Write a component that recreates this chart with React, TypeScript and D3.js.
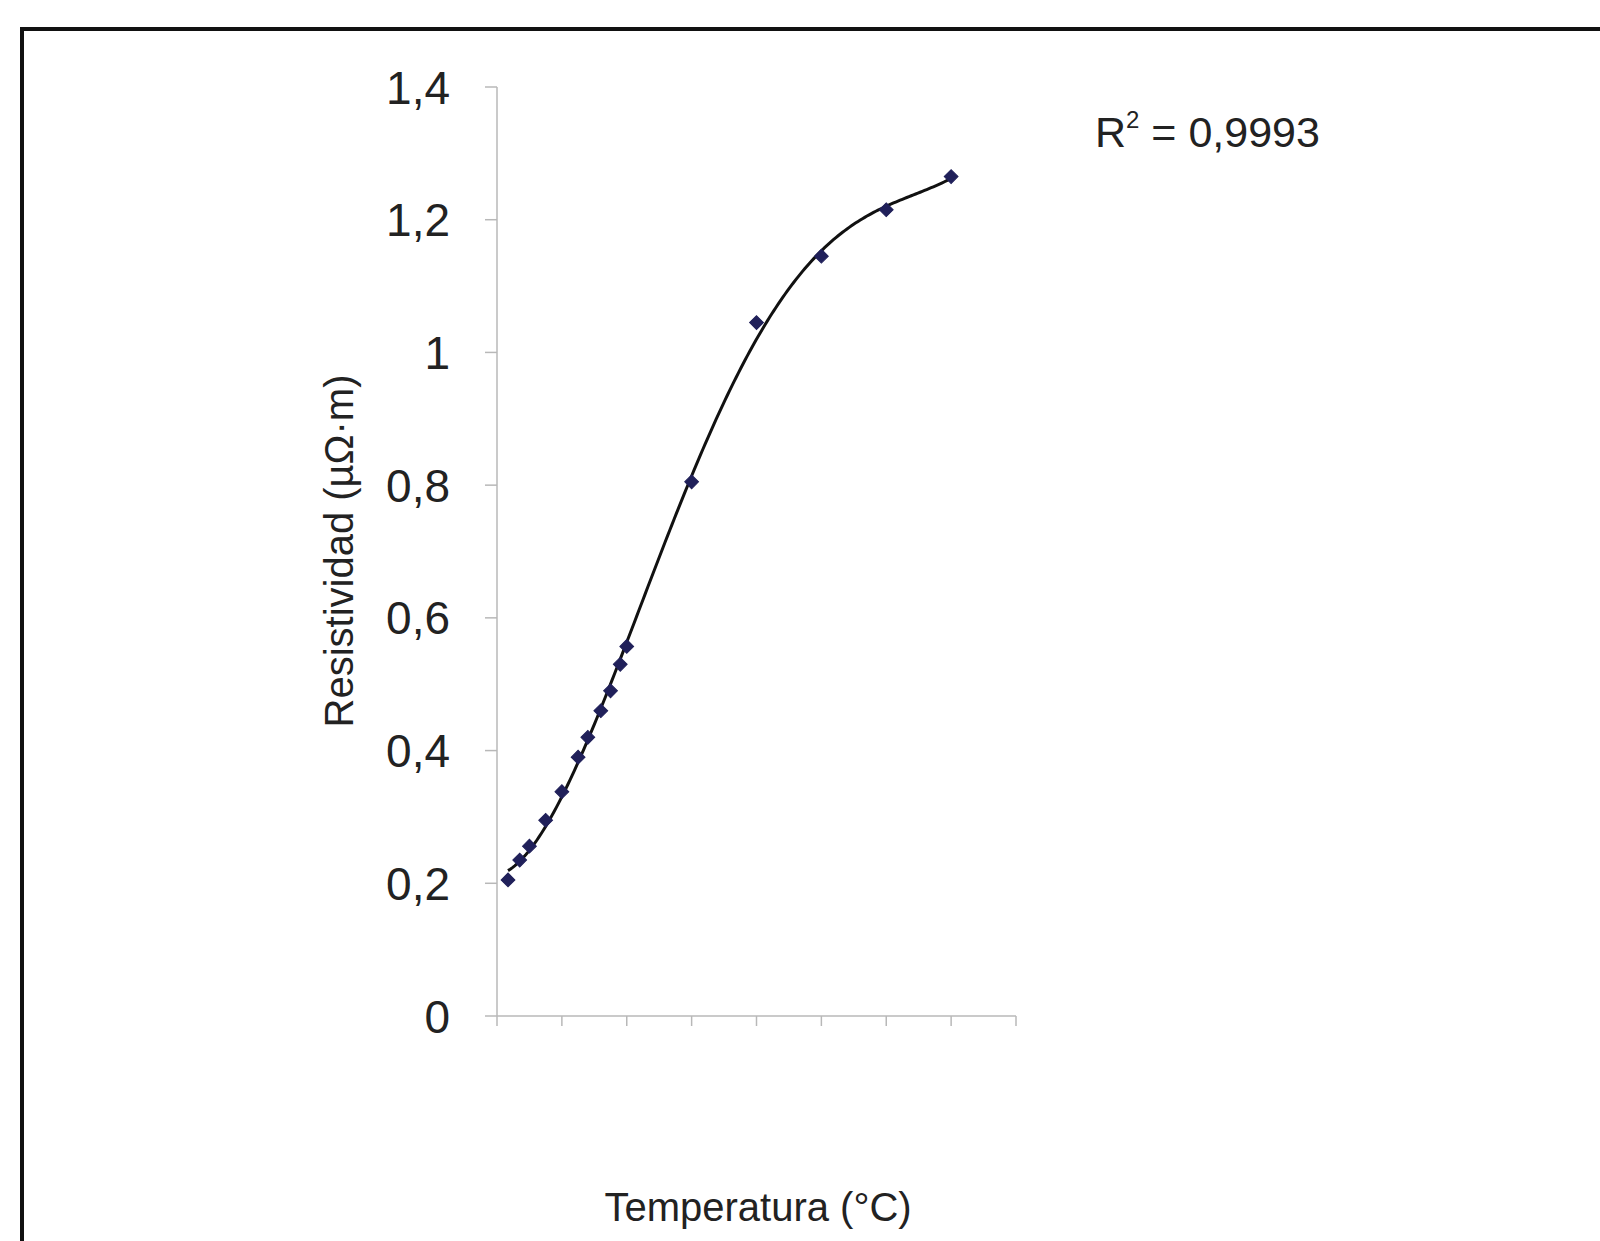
import React from "react";
import * as d3 from "d3";

// Data (temperature in °C, resistivity in µΩ·m)
const temperature = [17, 35, 50, 75, 100, 125, 140, 160, 175, 190, 200, 300, 400, 500, 600, 700];
const resistivity = [0.205, 0.235, 0.256, 0.295, 0.338, 0.39, 0.42, 0.46, 0.49, 0.53, 0.557, 0.805, 1.045, 1.145, 1.215, 1.265];
const yTicks = [0, 0.2, 0.4, 0.6, 0.8, 1, 1.2, 1.4];
const xTicks = [0, 100, 200, 300, 400, 500, 600, 700, 800];
const r2Label = "0,9993";
const xTitle = "Temperatura (°C)";
const yTitle = "Resistividad (µΩ·m)";

const W = 1600;
const H = 1241;
const FONT = "'Liberation Sans', Arial, sans-serif";

function polyFit(xs: number[], ys: number[], deg: number, scale: number) {
  const n = deg + 1;
  const A: number[][] = Array.from({ length: n }, () => new Array(n + 1).fill(0));
  xs.forEach((x0, k) => {
    const x = x0 / scale;
    for (let i = 0; i < n; i++) {
      for (let j = 0; j < n; j++) A[i][j] += Math.pow(x, i + j);
      A[i][n] += Math.pow(x, i) * ys[k];
    }
  });
  for (let c = 0; c < n; c++) {
    let p = c;
    for (let r = c + 1; r < n; r++) if (Math.abs(A[r][c]) > Math.abs(A[p][c])) p = r;
    [A[c], A[p]] = [A[p], A[c]];
    for (let r = 0; r < n; r++) {
      if (r === c) continue;
      const f = A[r][c] / A[c][c];
      for (let k = c; k <= n; k++) A[r][k] -= f * A[c][k];
    }
  }
  const coef = A.map((row, i) => row[n] / row[i]);
  return (x0: number) => {
    const x = x0 / scale;
    return coef.reduce((s, c, i) => s + c * Math.pow(x, i), 0);
  };
}

export default function App() {
  const x = d3.scaleLinear().domain([0, 800]).range([497, 1016]);
  const y = d3.scaleLinear().domain([0, 1.4]).range([1016, 87]);

  const fit = polyFit(temperature, resistivity, 4, 700);
  const xmin = d3.min(temperature) as number;
  const xmax = d3.max(temperature) as number;
  const samples = d3.range(0, 201).map((i) => xmin + ((xmax - xmin) * i) / 200);
  const line = d3
    .line<number>()
    .x((d) => x(d))
    .y((d) => y(fit(d)))
    .curve(d3.curveLinear);

  const axisColor = "#b8b8b8";
  const diamond = d3.symbol().type(d3.symbolSquare).size(95)();

  return (
    <svg
      width={W}
      height={H}
      viewBox={`0 0 ${W} ${H}`}
      style={{ position: "absolute", left: 0, top: 0, background: "#fff" }}
    >
      <rect x={0} y={0} width={W} height={H} fill="#fff" />
      {/* outer frame */}
      <line x1={22} y1={29} x2={W} y2={29} stroke="#111" strokeWidth={4} />
      <line x1={22} y1={27} x2={22} y2={H} stroke="#111" strokeWidth={4} />

      {/* y axis */}
      <line x1={x(0)} y1={y(1.4)} x2={x(0)} y2={y(0)} stroke={axisColor} strokeWidth={1.5} />
      {yTicks.map((t) => (
        <g key={"y" + t}>
          <line x1={x(0) - 12} x2={x(0)} y1={y(t)} y2={y(t)} stroke={axisColor} strokeWidth={1.5} />
          <text
            x={450}
            y={y(t)}
            dy="0.36em"
            textAnchor="end"
            fontFamily={FONT}
            fontSize={46}
            fill="#222"
          >
            {String(t).replace(".", ",")}
          </text>
        </g>
      ))}

      {/* x axis */}
      <line x1={x(0)} y1={y(0)} x2={x(800)} y2={y(0)} stroke={axisColor} strokeWidth={1.5} />
      {xTicks.map((t) => (
        <line key={"x" + t} x1={x(t)} x2={x(t)} y1={y(0)} y2={y(0) + 10} stroke={axisColor} strokeWidth={1.5} />
      ))}

      {/* trend line */}
      <path d={line(samples) || ""} fill="none" stroke="#111" strokeWidth={3} />

      {/* markers */}
      {temperature.map((t, i) => (
        <path
          key={"m" + i}
          d={diamond || ""}
          transform={`translate(${x(t)},${y(resistivity[i])}) rotate(45)`}
          fill="#20205a"
          stroke="#20205a"
          strokeWidth={1}
        />
      ))}

      {/* R² label */}
      <text x={1095} y={147} fontFamily={FONT} fontSize={43} fill="#222">
        R
        <tspan dy={-19} fontSize={24}>2</tspan>
        <tspan dy={19}>{" = " + r2Label}</tspan>
      </text>

      {/* axis titles */}
      <text
        x={758}
        y={1221}
        textAnchor="middle"
        fontFamily={FONT}
        fontSize={40}
        fill="#222"
      >
        {xTitle}
      </text>
      <text
        transform={`translate(353,551) rotate(-90)`}
        textAnchor="middle"
        fontFamily={FONT}
        fontSize={40}
        fill="#222"
      >
        {yTitle}
      </text>
    </svg>
  );
}
